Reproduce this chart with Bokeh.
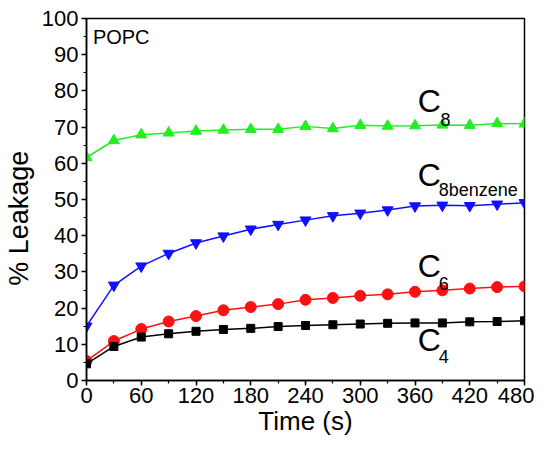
from bokeh.plotting import figure
from bokeh.models import Range1d, Label, FixedTicker
from bokeh.embed import file_html
from bokeh.resources import INLINE

time_s = [0, 30, 60, 90, 120, 150, 180, 210, 240, 270, 300, 330, 360, 390, 420, 450, 480]
c8 = [61.6, 66.3, 67.9, 68.4, 68.9, 69.2, 69.4, 69.4, 70.2, 69.6, 70.5, 70.3, 70.4, 70.6, 70.5, 71.0, 70.9]
c8benzene = [15.0, 26.3, 31.6, 35.1, 38.0, 39.9, 41.8, 43.1, 44.3, 45.5, 46.2, 47.1, 48.2, 48.4, 48.3, 48.7, 49.1]
c6 = [5.4, 10.9, 14.2, 16.3, 17.8, 19.4, 20.3, 21.1, 22.3, 22.8, 23.4, 23.8, 24.5, 24.9, 25.4, 25.8, 26.0]
c4 = [4.6, 9.4, 12.0, 12.9, 13.6, 14.1, 14.4, 14.9, 15.2, 15.4, 15.6, 15.8, 15.9, 15.9, 16.2, 16.3, 16.5]
x_ticks = [0, 60, 120, 180, 240, 300, 360, 420, 480]
y_ticks = [0, 10, 20, 30, 40, 50, 60, 70, 80, 90, 100]

FONT = "Liberation Sans"

p = figure(width=534, height=438, output_backend="svg", toolbar_location=None,
           x_range=Range1d(0, 480), y_range=Range1d(0, 100),
           min_border_left=86, min_border_right=10, min_border_top=18, min_border_bottom=58)
p.grid.visible = False
p.outline_line_color = "black"
p.outline_line_width = 1.5
p.background_fill_color = "white"
p.border_fill_color = "white"

for ax in (p.xaxis[0], p.yaxis[0]):
    ax.axis_line_width = 1.5
    ax.major_tick_line_width = 1.5
    ax.minor_tick_line_width = 1.2
    ax.major_tick_in = 0
    ax.major_tick_out = 5
    ax.minor_tick_in = 0
    ax.minor_tick_out = 3
    ax.major_label_text_font = FONT
    ax.major_label_text_font_size = "22px"
    ax.major_label_text_color = "black"
    ax.axis_label_text_font = FONT
    ax.axis_label_text_font_style = "normal"
    ax.axis_label_text_color = "black"

p.xaxis.ticker = FixedTicker(ticks=x_ticks, minor_ticks=list(range(0, 481, 30)))
p.yaxis.ticker = FixedTicker(ticks=y_ticks, minor_ticks=list(range(0, 101, 5)))
p.xaxis.axis_label = "Time (s)"
p.yaxis.axis_label = "% Leakage" + "\u00a0" * 5
p.xaxis.axis_label_text_font_size = "26px"
p.yaxis.axis_label_text_font_size = "27px"
p.xaxis.major_label_standoff = 2
p.yaxis.major_label_standoff = 3
p.xaxis.axis_label_standoff = 0
p.yaxis.axis_label_standoff = 5

p.line(time_s, c8, line_color="#22ee22", line_width=1.5)
p.scatter(time_s, c8, marker="triangle", size=11, color="#22ee22")
p.line(time_s, c8benzene, line_color="#1010ff", line_width=1.5)
p.scatter(time_s, c8benzene, marker="inverted_triangle", size=11, color="#1010ff")
p.line(time_s, c6, line_color="#ff1010", line_width=1.5)
p.scatter(time_s, c6, marker="circle", size=11, color="#ff1010")
p.line(time_s, c4, line_color="black", line_width=1.5)
p.scatter(time_s, c4, marker="square", size=8, color="black")

def lab(x, y, t, size):
    p.add_layout(Label(x=x, y=y, text=t, text_font=FONT, text_font_size=size,
                       text_color="black", text_baseline="alphabetic", text_align="left"))

lab(7, 95.0, "POPC", "20px")
lab(363, 77.1, "C", "32px")
lab(388, 72.0, "8", "18px")
lab(363, 56.9, "C", "32px")
lab(386, 52.6, "8benzene", "18px")
lab(363, 31.5, "C", "32px")
lab(386, 26.7, "6", "18px")
lab(363, 11.3, "C", "32px")
lab(386, 6.5, "4", "18px")

open("out.html", "w").write(file_html(p, INLINE))
